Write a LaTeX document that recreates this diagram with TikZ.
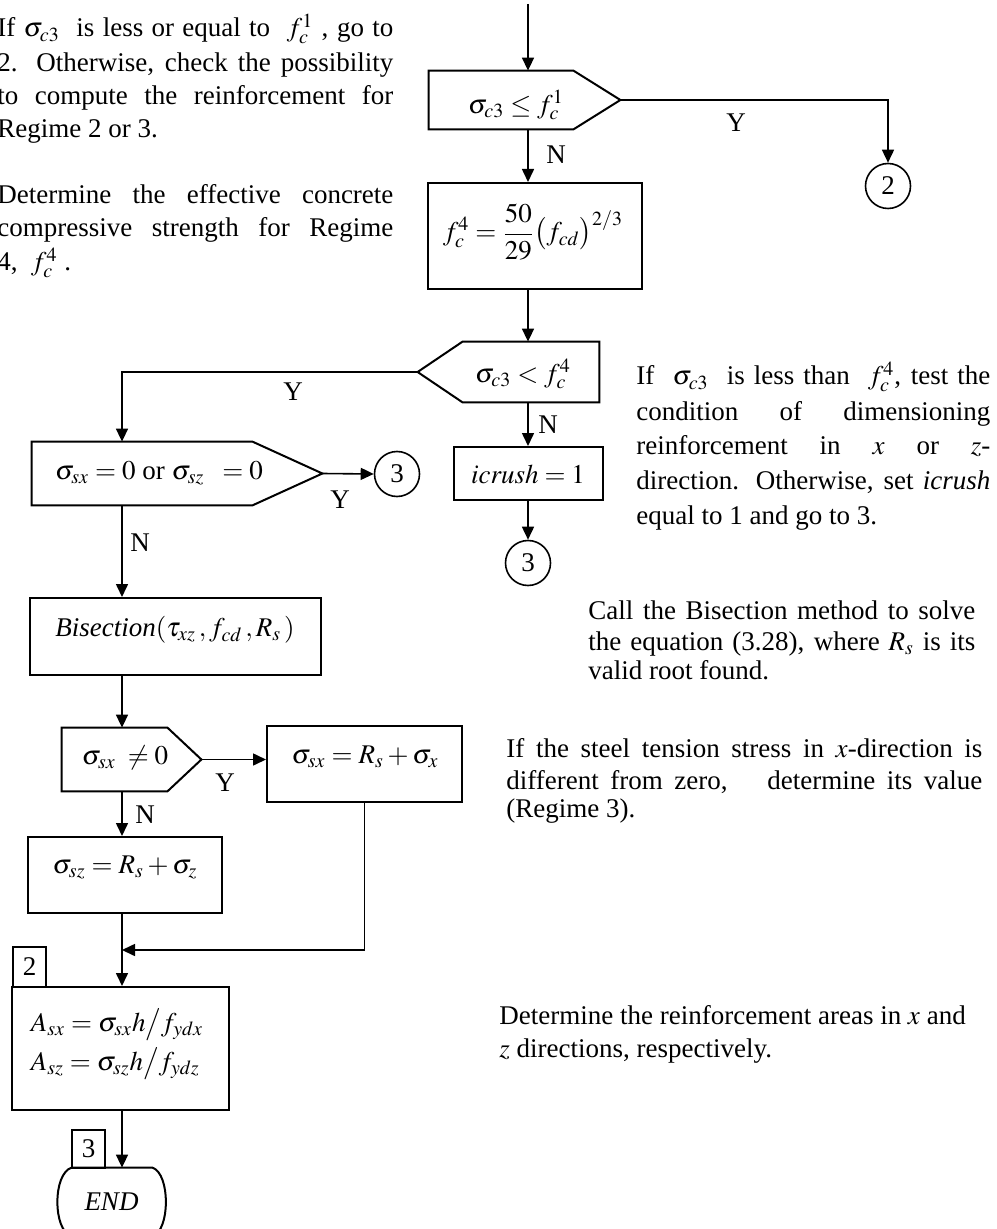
\documentclass[tikz,border=0pt]{standalone}
\usepackage{amsmath}
\usepackage{mathptmx}
\usepackage{fontspec}
\setmainfont{Liberation Serif}
\usetikzlibrary{arrows.meta,calc}

\begin{document}
\begin{tikzpicture}[x=0.5pt,y=-0.5pt,
  every node/.style={font=\fontsize{13.5}{16.5}\selectfont},
  boxline/.style={draw, line width=1pt},
  shapebox/.style={boxline, rectangle, inner sep=0pt},
  hold/.style={rectangle, inner sep=0pt},
  conn/.style={line width=0.8pt},
  arr/.style={conn, -{Triangle[length=6.5pt,width=6pt]}},
  txt/.style={anchor=base west, inner sep=0pt},
  connector/.style={circle, draw, line width=0.8pt, minimum size=22.5pt, inner sep=0pt}
]
\useasboundingbox (0,0) rectangle (996,1229);
\coordinate (mx) at (528,0);
\coordinate (lx) at (122,0);
\coordinate (top) at (528,4);

% decision 1
\node[hold, minimum width=95.5pt, minimum height=29pt] (d1) at (524.5,100) {};
\draw[boxline] (d1.north west) -- ($(d1.north east)+(-47,0)$) -- (d1.east) -- ($(d1.south east)+(-47,0)$) -- (d1.south west) -- cycle;
\node (t1) at (516,105) {$\sigma_{c3} \le f_c^1$};

% box fc4
\node[shapebox, minimum width=107pt, minimum height=53pt] (b1) at (535,236) {};
\node (t5) at (533,232) {$f_c^4 = \dfrac{50}{29}\bigl(f_{cd}\bigr)^{2/3}$};

% decision 2
\node[hold, minimum width=90.5pt, minimum height=30pt] (d2) at (508.5,372) {};
\draw[boxline] (d2.west) -- ($(d2.north west)+(45,0)$) -- (d2.north east) -- (d2.south east) -- ($(d2.south west)+(45,0)$) -- cycle;
\node (t2) at (523,374) {$\sigma_{c3} < f_c^4$};

% icrush
\node[shapebox, minimum width=74.5pt, minimum height=26.5pt] (b2) at (528.5,473.5) {};
\node (t6) at (528,474) {$\mathit{icrush} = 1$};

% decision 3
\node[hold, minimum width=145pt, minimum height=31.5pt] (d3) at (177,473.5) {};
\draw[boxline] (d3.north west) -- ($(d3.north east)+(-70,0)$) -- (d3.east) -- ($(d3.south east)+(-70,0)$) -- (d3.south west) -- cycle;
\node (t3) at (159,473) {$\sigma_{sx} = 0$ or $\sigma_{sz}\;\; = 0$};

% bisection
\node[shapebox, minimum width=145.5pt, minimum height=38.5pt] (b3) at (175.5,636.5) {};
\node (t7) at (175,630) {\textit{Bisection}$(\tau_{xz}\,, f_{cd}\,, R_s\,)$};

% decision 4
\node[hold, minimum width=69.5pt, minimum height=31.5pt] (d4) at (131.5,759.5) {};
\draw[boxline] (d4.north west) -- ($(d4.north east)+(-34,0)$) -- (d4.east) -- ($(d4.south east)+(-34,0)$) -- (d4.south west) -- cycle;
\node (t4) at (125,758) {$\sigma_{sx}\; \ne 0$};

% sigma sx box
\node[shapebox, minimum width=97.5pt, minimum height=38pt] (b4) at (364.5,764) {};
\node (t8) at (365,757) {$\sigma_{sx} = R_s + \sigma_x$};

% sigma sz box
\node[shapebox, minimum width=97pt, minimum height=38pt] (b5) at (125,875) {};
\node (t9) at (125,868) {$\sigma_{sz} = R_s + \sigma_z$};

% A box
\node[shapebox, minimum width=108.5pt, minimum height=61.5pt] (b6) at (120.5,1048.5) {};
\node[align=left] (t10) at (117,1044) {$A_{sx} = \sigma_{sx}h\big/ f_{ydx}$\\[3pt]$A_{sz} = \sigma_{sz}h\big/ f_{ydz}$};

% small label boxes
\node[shapebox, minimum width=16.5pt, minimum height=20pt] (k2) at (29.5,967) {2};
\node[shapebox, minimum width=16.5pt, minimum height=19pt] (k3) at (88.5,1149) {3};

% END terminal
\node[hold, minimum width=53.5pt, minimum height=34pt] (fin) at (111.5,1202) {\textit{END}};
\draw[boxline] ($(fin.north west)+(14,0)$) -- ($(fin.north east)+(-13,0)$)
  .. controls ($(fin.north east)+(5,6)$) and ($(fin.south east)+(5,-6)$) .. ($(fin.south east)+(-13,0)$)
  -- ($(fin.south west)+(14,0)$)
  .. controls ($(fin.south west)+(-5,-6)$) and ($(fin.north west)+(-5,6)$) .. ($(fin.north west)+(14,0)$);

% connector circles
\node[connector] (c2) at (888,186) {2};
\node[connector] (c3a) at (397,474) {3};
\node[connector] (c3b) at (528,563) {3};

% connectors
\draw[arr] (top) -- (top |- d1.north);
\draw[arr] (d1.east) -| (c2.north);
\draw[arr] (d1.south -| mx) -- (b1.north -| mx);
\draw[arr] (b1.south -| mx) -- (d2.north -| mx);
\draw[arr] (d2.west) -| (lx |- d3.north);
\draw[arr] (d2.south -| mx) -- (b2.north -| mx);
\draw[arr] (b2.south -| mx) -- (c3b.north);
\draw[arr] (d3.east) -- (c3a.west);
\draw[arr] (d3.south -| lx) -- (b3.north -| lx);
\draw[arr] (b3.south -| lx) -- (d4.north -| lx);
\draw[arr] (d4.east) -- (d4.east -| b4.west);
\draw[arr] (d4.south -| lx) -- (b5.north -| lx);
\draw[arr] (b5.south -| lx) -- (b6.north -| lx);
\coordinate (jn) at (122,950);
\draw[arr] (b4.south) |- (jn);
\draw[arr] (b6.south -| lx) -- (fin.north -| lx);

% Y / N labels
\node (y1) at (736,123) {Y};
\node (n1) at (556,155) {N};
\node (y2) at (293,392) {Y};
\node (n2) at (548,425) {N};
\node (y3) at (340,500) {Y};
\node (n3) at (140,543) {N};
\node (y4) at (225,783) {Y};
\node (n4) at (145,815) {N};

% left text block
\node[txt] (l1) at (-3,37) {\makebox[198pt][s]{If $\sigma_{c3}$ \ is less or equal to \ $f_c^1$ , go to}};
\node[txt] (l2) at (-3,72) {\makebox[198pt][s]{2. Otherwise, check the possibility}};
\node[txt] (l3) at (-3,105) {\makebox[198pt][s]{to compute the reinforcement for}};
\node[txt] (l4) at (-3,138) {Regime 2 or 3.};
\node[txt] (l5) at (-3,204) {\makebox[198pt][s]{Determine the effective concrete}};
\node[txt] (l6) at (-3,237) {\makebox[198pt][s]{compressive strength for Regime}};
\node[txt] (l7) at (-3,271) {4, \ $f_c^4$ .};

% right block 1
\node[txt] (r1) at (636,385) {\makebox[177pt][s]{If \ $\sigma_{c3}$ \ is less than \ $f_c^4$, test the}};
\node[txt] (r2) at (636,420) {\makebox[177pt][s]{condition of dimensioning}};
\node[txt] (r3) at (636,454) {\makebox[177pt][s]{reinforcement in $x$ or $z$-}};
\node[txt] (r4) at (636,489) {\makebox[177pt][s]{direction. Otherwise, set \textit{icrush}}};
\node[txt] (r5) at (636,524) {equal to 1 and go to 3.};

% right block 2
\node[txt] (s1) at (588,619) {\makebox[193.5pt][s]{Call the Bisection method to solve}};
\node[txt] (s2) at (588,650) {\makebox[193.5pt][s]{the equation (3.28), where $R_s$ is its}};
\node[txt] (s3) at (588,679) {valid root found.};

% right block 3
\node[txt] (u1) at (506,757) {\makebox[238pt][s]{If the steel tension stress in $x$-direction is}};
\node[txt] (u2) at (506,789) {\makebox[238pt][s]{different from zero, \quad determine its value}};
\node[txt] (u3) at (506,817) {(Regime 3).};

% right block 4
\node[txt] (v1) at (499,1024) {Determine the reinforcement areas in $x$ and};
\node[txt] (v2) at (499,1057) {$z$ directions, respectively.};
\end{tikzpicture}
\end{document}
